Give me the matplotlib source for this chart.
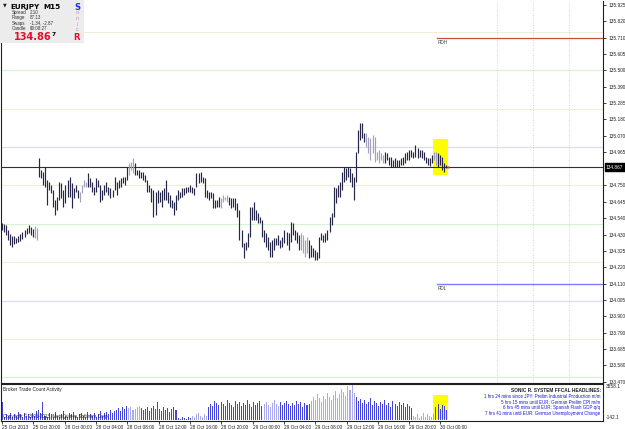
import matplotlib
matplotlib.use("Agg")
import matplotlib.pyplot as plt
from matplotlib.patches import Rectangle
import matplotlib.transforms as mtransforms
from matplotlib import font_manager as fm

# ---------------- data ----------------
symbol = "EURJPY"
timeframe = "M15"
last_price = 134.867
rdh_level = 135.71
rdl_level = 134.11

highs = [
134.505,134.499,134.492,134.460,134.434,134.420,134.420,134.408,134.420,134.434,
134.447,134.460,134.473,134.492,134.479,134.466,134.486,134.473,
134.929,134.851,134.838,134.870,134.785,134.772,134.753,134.720,134.655,134.675,
134.772,134.766,134.720,134.753,134.785,134.805,134.766,134.733,134.753,134.720,
134.707,134.753,134.785,134.772,134.831,134.798,134.772,134.740,134.798,134.785,
134.753,134.720,134.753,134.772,134.740,134.733,134.720,134.805,134.772,134.785,
134.798,134.805,134.805,134.870,134.896,134.903,134.929,134.896,134.851,134.851,
134.838,134.838,134.818,134.785,134.753,134.733,134.720,134.707,134.720,134.707,
134.720,134.733,134.785,134.707,134.688,134.655,134.642,134.688,134.720,134.707,
134.733,134.733,134.740,134.740,134.753,134.740,134.733,134.831,134.831,134.838,
134.805,134.798,134.720,134.707,134.707,134.701,134.655,134.655,134.675,134.668,
134.688,134.675,134.688,134.675,134.668,134.668,134.668,134.636,134.590,134.460,
134.375,134.381,134.440,134.609,134.609,134.642,134.590,134.570,134.544,134.525,
134.460,134.440,134.414,134.381,134.394,134.408,134.408,134.427,134.394,134.414,
134.460,134.447,134.440,134.512,134.505,134.460,134.447,134.427,134.440,134.427,
134.394,134.414,134.394,134.362,134.342,134.329,134.316,134.414,134.440,134.427,
134.440,134.460,134.544,134.570,134.740,134.733,134.753,134.772,134.838,134.870,
134.864,134.870,134.864,134.831,134.805,134.968,135.111,135.157,135.157,135.092,
135.092,135.066,135.059,135.079,135.066,134.968,134.981,134.961,134.948,134.968,
134.961,134.935,134.935,134.916,134.929,134.916,134.916,134.929,134.935,134.961,
134.968,134.981,134.981,134.968,135.013,134.994,134.981,134.981,134.968,134.935,
134.929,134.929,134.948,134.968,134.968,134.961,134.948,134.935,134.896,134.883,
]

lows = [
134.460,134.447,134.427,134.394,134.362,134.349,134.368,134.375,134.381,134.388,
134.401,134.414,134.434,134.440,134.427,134.414,134.408,134.394,
134.805,134.798,134.753,134.740,134.622,134.720,134.701,134.609,134.557,134.590,
134.655,134.668,134.609,134.636,134.675,134.675,134.603,134.668,134.707,134.668,
134.642,134.701,134.740,134.740,134.740,134.740,134.707,134.688,134.707,134.740,
134.642,134.655,134.688,134.707,134.688,134.668,134.675,134.720,134.688,134.733,
134.740,134.766,134.753,134.785,134.818,134.851,134.831,134.818,134.818,134.798,
134.798,134.785,134.772,134.707,134.707,134.642,134.544,134.557,134.636,134.642,
134.609,134.655,134.655,134.636,134.609,134.603,134.557,134.590,134.655,134.668,
134.675,134.688,134.701,134.707,134.707,134.701,134.688,134.740,134.766,134.772,
134.766,134.675,134.668,134.655,134.668,134.603,134.603,134.609,134.609,134.603,
134.642,134.655,134.642,134.622,134.603,134.609,134.590,134.544,134.394,134.349,
134.277,134.329,134.349,134.414,134.525,134.525,134.525,134.505,134.505,134.414,
134.381,134.349,134.329,134.284,134.284,134.329,134.362,134.362,134.342,134.349,
134.375,134.362,134.329,134.381,134.427,134.394,134.375,134.329,134.329,134.310,
134.284,134.310,134.277,134.284,134.284,134.264,134.264,134.277,134.394,134.381,
134.381,134.394,134.447,134.492,134.544,134.636,134.675,134.675,134.720,134.772,
134.785,134.805,134.772,134.740,134.655,134.772,134.961,135.046,135.059,135.033,
135.000,134.961,134.916,134.961,134.903,134.916,134.896,134.916,134.896,134.896,
134.916,134.883,134.870,134.870,134.870,134.870,134.870,134.883,134.883,134.896,
134.916,134.916,134.935,134.929,134.935,134.929,134.935,134.929,134.916,134.896,
134.883,134.877,134.896,134.916,134.883,134.870,134.883,134.851,134.838,134.864,
]

volumes = [
1700,
300,500,400,600,300,500,400,700,500,300,600,400,500,300,600,400,800,
900,600,
1700,
400,300,600,500,300,700,400,300,500,800,400,300,600,500,700,400,300,500,600,400,
300,700,500,400,600,300,500,800,400,600,700,500,900,600,800,
900,1100,800,1200,1000,1300,1100,1200,900,1000,1200,1300,1100,900,1000,1200,800,1100,1300,1000,
1700,
1000,800,1200,900,1100,700,1000,1200,900,
200,100,300,200,100,300,200,
400,300,500,600,400,300,500,400,
1200,1500,1300,1800,1600,1400,1700,1500,1300,1900,1600,1400,1200,1800,1500,1700,1300,1600,1400,1900,
1500,1200,1700,1400,1600,1800,1300,1500,1700,1400,1200,1600,1900,1500,1300,1700,1400,1600,1800,1500,
1300,1600,1400,1800,1500,1700,1200,1600,1400,1500,
1800,2200,1900,2500,2100,1700,2300,2000,2600,2200,1900,2400,2800,2100,2500,3000,2700,2300,3300,2900,3400,2600,
2200,1800,2000,1600,1900,1500,1700,2100,1400,1800,1600,1300,1700,1500,1900,1400,1600,1200,1800,1500,
1300,1700,1400,1600,1200,1500,1300,1100,
400,300,500,200,400,600,300,500,400,300,500,
1200,1500,1000,1400,1300,900,
]

price_light_ranges = [(16, 17), (38, 41), (62, 64), (107, 110), (146, 149), (178, 186), (211, 212)]
volume_light_ranges = [(62, 67), (93, 100), (128, 135), (151, 172), (201, 211)]

xlabels = ["25 Oct 2013", "25 Oct 20:00", "28 Oct 00:00", "28 Oct 04:00", "28 Oct 08:00",
           "28 Oct 12:00", "28 Oct 16:00", "28 Oct 20:00", "29 Oct 00:00", "29 Oct 04:00",
           "29 Oct 08:00", "29 Oct 12:00", "29 Oct 16:00", "29 Oct 20:00", "30 Oct 00:00"]
label_step = 15.3          # bars between time labels (as drawn)

ytick_vals = [135.925, 135.820, 135.710, 135.605, 135.500, 135.390, 135.285, 135.180,
              135.070, 134.965, 134.750, 134.645, 134.540, 134.430, 134.325, 134.220,
              134.110, 134.005, 133.900, 133.790, 133.685, 133.580, 133.470]
ytick_labels = ["%.3f" % v for v in ytick_vals]

quarter_levels = [135.75, 135.25, 134.75, 134.25, 133.75]
half_levels = [135.50, 134.50, 133.50]
whole_levels = [135.00, 134.00]
event_bars = [241.8, 259.4, 277.0]

vol_max_label = "3558.1"
vol_min_label = "-142.1"
vol_lims = (-142.1, 3558.1)

headlines = [
    "1 hrs 24 mins since JPY: Prelim Industrial Production m/m",
    "5 hrs 15 mins until EUR: German Prelim CPI m/m",
    "6 hrs 45 mins until EUR: Spanish Flash GDP q/q",
    "7 hrs 41 mins until EUR: German Unemployment Change",
]

# ---------------- fonts ----------------
try:
    fm.findfont(fm.FontProperties(family="Liberation Sans Narrow"), fallback_to_default=False)
    NARROW = ["Liberation Sans Narrow", "DejaVu Sans"]
    k_small = 1.0
except Exception:
    NARROW = ["Liberation Sans", "DejaVu Sans"]
    k_small = 0.82
SMALL = 4.2 * k_small

# ---------------- figure ----------------
W, H = 625, 429
fig = plt.figure(figsize=(W / 100, H / 100), dpi=100)
fig.patch.set_facecolor("white")


def fx(px):
    return px / W


def fy(py):
    return 1 - py / H


def T(px, py, s, **kw):
    kw.setdefault("va", "center")
    kw.setdefault("ha", "left")
    kw.setdefault("family", NARROW)
    fig.text(fx(px), fy(py), s, **kw)


ax = fig.add_axes([fx(1), fy(383), fx(603) - fx(1), fy(1) - fy(383)])
axv = fig.add_axes([fx(1), fy(421), fx(603) - fx(1), fy(383.5) - fy(421)], sharex=ax)

n = len(highs)
idx = list(range(n))


def in_ranges(i, ranges):
    return any(a <= i <= b for a, b in ranges)


dark = "#262648"
light = "#a2a2bc"
pcolors = [light if in_ranges(i, price_light_ranges) else dark for i in idx]

xmin, xmax = -0.49, 293.6
ax.set_xlim(xmin, xmax)
ax.set_ylim(133.463, 135.951)

# level lines
for v in quarter_levels:
    ax.axhline(v, color="#efefd8", lw=0.8, zorder=1)
for v in half_levels:
    ax.axhline(v, color="#d4f4d4", lw=0.8, zorder=1)
for v in whole_levels:
    ax.axhline(v, color="#dcdcf6", lw=0.9, zorder=1)
for b in event_bars:
    ax.axvline(b, color="#c4c4d4", lw=0.6, ls=(0, (1, 2)), zorder=1)

# yellow highlight
ax.add_patch(Rectangle((210.5, 134.818), 7.2, 0.234, facecolor="#ffff00", edgecolor="none", zorder=2))

# RDH / RDL
ax.plot([212.5, xmax], [rdh_level, rdh_level], color="#c0503a", lw=0.9, zorder=2)
ax.plot([212.5, xmax], [rdl_level, rdl_level], color="#7c7cff", lw=1.0, zorder=2)
ax.text(213.0, rdh_level - 0.012, "RDH", fontsize=SMALL, color="#404040", va="top", ha="left", family=NARROW)
ax.text(213.0, rdl_level - 0.012, "RDL", fontsize=SMALL, color="#404040", va="top", ha="left", family=NARROW)

# bid line
ax.axhline(last_price, color="#303030", lw=0.8, zorder=3)

# price bars
ax.vlines(idx, lows, highs, colors=pcolors, lw=0.85, zorder=4)
ax.plot([n - 0.2], [last_price], marker="s", ms=1.6, color="#ff2020", zorder=5, mec="none")

ax.yaxis.tick_right()
ax.set_yticks(ytick_vals)
ax.set_yticklabels(ytick_labels, family=NARROW)
ax.tick_params(axis="y", length=2.5, width=0.6, pad=1.2, labelsize=SMALL, colors="#202020")
ax.tick_params(axis="x", length=0, labelbottom=False)
for s in ax.spines.values():
    s.set_color("#202020")
    s.set_linewidth(0.8)
ax.spines["top"].set_visible(False)

# price box on axis
trans = mtransforms.blended_transform_factory(ax.transAxes, ax.transData)
ax.text(1.005, last_price, "%.3f" % last_price, transform=trans, fontsize=SMALL, color="white",
        va="center", ha="left", clip_on=False, family=NARROW,
        bbox=dict(boxstyle="square,pad=0.3", facecolor="black", edgecolor="black"))

# ---------------- volume panel ----------------
vcolors = ["#aaaaf2" if in_ranges(i, volume_light_ranges) else "#4444dc" for i in idx]
axv.add_patch(Rectangle((210.5, 100), 7.2, 2350, facecolor="#ffff00", edgecolor="none", zorder=1))
axv.bar(idx, volumes, width=0.5, color=vcolors, zorder=2)
axv.set_ylim(*vol_lims)
axv.set_yticks([])
ticks = [k * label_step for k in range(len(xlabels))]
axv.set_xticks(ticks)
axv.set_xticklabels(xlabels, family=NARROW)
for t in axv.get_xticklabels():
    t.set_ha("left")
axv.tick_params(axis="x", length=2, width=0.6, pad=1, labelsize=SMALL, colors="#202020")
for s in axv.spines.values():
    s.set_color("#202020")
    s.set_linewidth(0.8)
axv.set_xlim(xmin, xmax)

T(606, 386.5, vol_max_label, fontsize=SMALL, color="#202020")
T(606, 417.5, vol_min_label, fontsize=SMALL, color="#202020")
T(3, 389, "Broker Trade Count Activity", fontsize=SMALL, color="#202020")
T(3, 416, "Copyright \u00a9 2001-2013, MetaQuotes Software Corp.", fontsize=SMALL * 0.95, color="#202020")

T(601, 390, "SONIC R. SYSTEM FFCAL HEADLINES:", fontsize=SMALL * 1.0, color="#202020",
  ha="right", fontweight="bold")
for k, line in enumerate(headlines):
    T(600, 396 + k * 6, line, fontsize=SMALL * 0.95, color="#1c1cd8", ha="right")

# ---------------- info box ----------------
fig.patches.append(Rectangle((0, fy(43)), fx(84), fy(0) - fy(43), transform=fig.transFigure,
                             facecolor="#ececec", edgecolor="none", zorder=0))
T(2.5, 5, "\u25bc", fontsize=3.5, color="#202020", family=["DejaVu Sans"])
T(10, 7, symbol, fontsize=5.2, color="black", fontweight="bold", family=["DejaVu Sans"])
T(43, 7, timeframe, fontsize=5.2, color="black", fontweight="bold", family=["DejaVu Sans"])
rows = [("Spread", "2.10"), ("Range", "87.13"), ("Swaps", "-1.34, -2.87"), ("Candle", "00:08:27")]
for k, (a, b) in enumerate(rows):
    T(12, 12.7 + k * 5.2, a, fontsize=SMALL * 0.95, color="#303030")
    T(30, 12.7 + k * 5.2, b, fontsize=SMALL * 0.95, color="#303030")
T(14, 37.5, "%.2f" % (int(last_price * 100) / 100), fontsize=7.0, color="#e0102c",
  fontweight="bold", family=["DejaVu Sans"])
T(51.5, 34, "7", fontsize=4.2, color="black", fontweight="bold", family=["DejaVu Sans"])
T(77, 7, "S", fontsize=6, color="#2030e0", fontweight="bold", ha="center", family=["DejaVu Sans"])
for k, ch in enumerate(["o", "n", "i", "c"]):
    T(77, 13 + k * 5.6, ch, fontsize=3.8, color="#c48ab8", ha="center")
T(77, 37.5, "R", fontsize=6, color="#e01028", fontweight="bold", ha="center", family=["DejaVu Sans"])

fig.savefig("out.png", dpi=100, facecolor="white")
